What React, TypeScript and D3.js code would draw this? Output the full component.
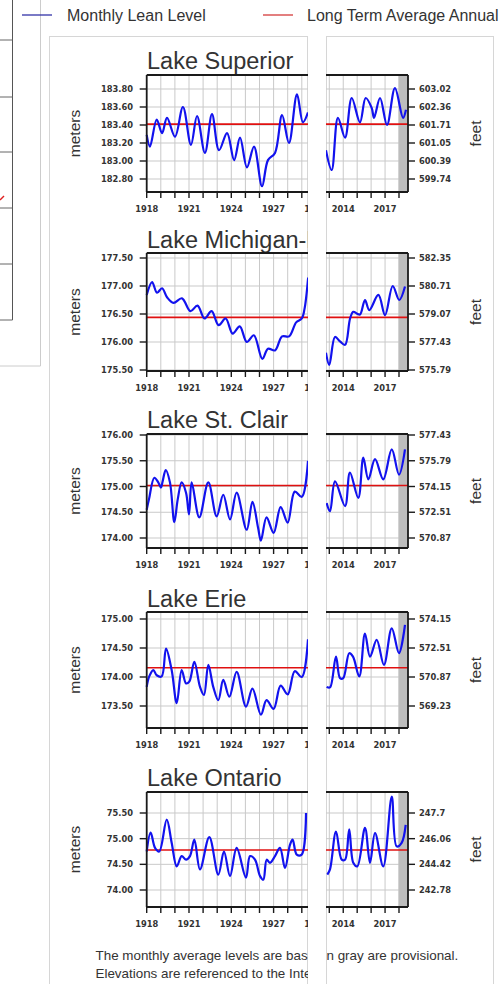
import React, { useEffect } from 'react';
import * as d3 from 'd3';

type Pt = [number, number];

// [decimal year, meters]
const superiorEarly: Pt[] = [
  [1918.0, 183.29], [1918.23, 183.16], [1918.71, 183.46], [1919.09, 183.31], [1919.44, 183.48],
  [1920.01, 183.27], [1920.57, 183.6], [1921.14, 183.18], [1921.57, 183.5], [1922.13, 183.09],
  [1922.63, 183.52], [1923.13, 183.12], [1923.7, 183.31], [1924.2, 183.01], [1924.62, 183.26],
  [1925.11, 182.93], [1925.61, 183.16], [1926.18, 182.72], [1926.6, 183.01], [1927.1, 183.09],
  [1927.6, 183.51], [1928.09, 183.2], [1928.66, 183.74], [1929.08, 183.43], [1929.44, 183.54],
];
const superiorRecent: Pt[] = [
  [2012.76, 183.12], [2013.17, 182.9], [2013.62, 183.48], [2014.13, 183.26], [2014.61, 183.7],
  [2015.2, 183.43], [2015.61, 183.7], [2016.04, 183.59], [2016.21, 183.48], [2016.64, 183.7],
  [2017.14, 183.4], [2017.71, 183.81], [2018.29, 183.48], [2018.5, 183.57],
];
const michiganEarly: Pt[] = [
  [1918.0, 176.84], [1918.38, 177.07], [1918.73, 176.88], [1919.09, 176.96], [1919.44, 176.8],
  [1919.9, 176.7], [1920.5, 176.78], [1921.1, 176.55], [1921.6, 176.65], [1922.1, 176.42],
  [1922.6, 176.55], [1923.1, 176.3], [1923.6, 176.42], [1924.1, 176.15], [1924.6, 176.28],
  [1925.1, 176.0], [1925.6, 176.12], [1926.2, 175.7], [1926.6, 175.88], [1927.1, 175.85],
  [1927.6, 176.1], [1928.1, 176.1], [1928.6, 176.35], [1929.0, 176.42], [1929.2, 176.6],
  [1929.45, 177.15],
];
const michiganRecent: Pt[] = [
  [2012.76, 175.81], [2013.0, 175.59], [2013.41, 176.09], [2013.77, 176.01], [2014.13, 175.95],
  [2014.49, 176.42], [2014.72, 176.54], [2014.97, 176.51], [2015.2, 176.49], [2015.56, 176.75],
  [2015.87, 176.57], [2016.52, 176.84], [2017.0, 176.48], [2017.55, 177.0], [2018.02, 176.75],
  [2018.43, 176.99],
];
const stClairEarly: Pt[] = [
  [1918.0, 174.55], [1918.16, 174.75], [1918.54, 175.17], [1918.82, 175.08], [1919.01, 174.98],
  [1919.13, 175.1], [1919.35, 175.32], [1919.65, 175.08], [1919.96, 174.31], [1920.2, 174.75],
  [1920.48, 175.08], [1920.79, 174.88], [1921.0, 174.46], [1921.19, 175.08], [1921.73, 174.4],
  [1922.37, 175.08], [1922.96, 174.42], [1923.43, 174.84], [1923.91, 174.36], [1924.38, 174.88],
  [1925.09, 174.16], [1925.5, 174.7], [1925.9, 174.2], [1926.1, 173.95], [1926.5, 174.4],
  [1927.0, 174.1], [1927.5, 174.6], [1928.0, 174.3], [1928.5, 174.9], [1929.0, 174.8],
  [1929.44, 175.5],
];
const stClairRecent: Pt[] = [
  [2012.81, 174.68], [2013.05, 174.52], [2013.41, 175.1], [2014.13, 174.62], [2014.48, 175.27],
  [2015.08, 174.78], [2015.44, 175.56], [2015.8, 175.14], [2016.28, 175.53], [2016.87, 175.14],
  [2017.48, 175.72], [2018.0, 175.23], [2018.43, 175.72],
];
const erieEarly: Pt[] = [
  [1918.0, 173.83], [1918.18, 174.01], [1918.47, 174.12], [1918.71, 174.03], [1919.06, 174.01],
  [1919.37, 174.49], [1919.77, 174.12], [1920.13, 173.55], [1920.48, 174.12], [1920.79, 173.89],
  [1921.02, 173.92], [1921.38, 174.26], [1921.78, 173.83], [1922.06, 173.69], [1922.37, 174.21],
  [1922.72, 173.83], [1923.08, 173.6], [1923.43, 173.95], [1923.86, 173.66], [1924.38, 174.09],
  [1925.04, 173.49], [1925.5, 173.8], [1926.1, 173.35], [1926.5, 173.6], [1927.0, 173.45],
  [1927.5, 173.85], [1928.0, 173.7], [1928.5, 174.1], [1929.0, 174.0], [1929.44, 174.65],
];
const erieRecent: Pt[] = [
  [2012.81, 173.83], [2013.05, 173.82], [2013.48, 174.35], [2013.77, 173.98], [2014.0, 173.98],
  [2014.43, 174.41], [2014.7, 174.35], [2015.15, 174.01], [2015.56, 174.75], [2015.92, 174.35],
  [2016.4, 174.64], [2016.92, 174.21], [2017.48, 174.84], [2018.0, 174.41], [2018.43, 174.9],
];
const ontarioEarly: Pt[] = [
  [1918.0, 74.75], [1918.28, 75.12], [1918.59, 74.82], [1918.89, 74.75], [1919.42, 75.37],
  [1919.77, 74.92], [1920.13, 74.46], [1920.48, 74.66], [1920.79, 74.59], [1921.07, 74.66],
  [1921.38, 74.98], [1921.78, 74.4], [1922.44, 75.03], [1923.08, 74.3], [1923.48, 74.75],
  [1923.91, 74.27], [1924.38, 74.82], [1925.04, 74.24], [1925.33, 74.66], [1925.68, 74.59],
  [1926.04, 74.27], [1926.27, 74.2], [1926.51, 74.59], [1926.74, 74.53], [1927.1, 74.66],
  [1927.45, 74.82], [1927.81, 74.43], [1928.16, 74.88], [1928.35, 74.98], [1928.64, 74.69],
  [1928.99, 74.69], [1929.3, 75.5],
];
const ontarioRecent: Pt[] = [
  [2012.86, 74.3], [2013.05, 74.4], [2013.48, 75.14], [2013.89, 74.59], [2014.13, 74.59],
  [2014.43, 75.18], [2014.72, 74.53], [2015.01, 74.46], [2015.56, 75.21], [2015.92, 74.53],
  [2016.28, 75.11], [2016.87, 74.46], [2017.48, 75.82], [2017.83, 74.85], [2018.19, 74.92],
  [2018.48, 75.27],
];

const lakeTitles = ['Lake Superior', 'Lake Michigan-Huron', 'Lake St. Clair', 'Lake Erie', 'Lake Ontario'];

const superiorMeters = [183.8, 183.6, 183.4, 183.2, 183.0, 182.8];
const superiorFeet = ['603.02', '602.36', '601.71', '601.05', '600.39', '599.74'];
const michiganMeters = [177.5, 177.0, 176.5, 176.0, 175.5];
const michiganFeet = ['582.35', '580.71', '579.07', '577.43', '575.79'];
const stClairMeters = [176.0, 175.5, 175.0, 174.5, 174.0];
const stClairFeet = ['577.43', '575.79', '574.15', '572.51', '570.87'];
const erieMeters = [175.0, 174.5, 174.0, 173.5];
const erieFeet = ['574.15', '572.51', '570.87', '569.23'];
const ontarioMeters = [75.5, 75.0, 74.5, 74.0];
const ontarioFeet = ['247.7', '246.06', '244.42', '242.78'];

const longTermAverage = [183.41, 176.44, 175.02, 174.16, 74.78];

const earlyTickYears = [1918, 1919, 1920, 1921, 1922, 1923, 1924, 1925, 1926, 1927, 1928, 1929, 1930];
const earlyLabelYears = [1918, 1921, 1924, 1927, 1930];
const recentTickYears = [2013, 2014, 2015, 2016, 2017, 2018];
const recentLabelYears = [2014, 2017];
const provisionalFrom = 2017.97;

const footerLeft = ['The monthly average levels are bas', 'Elevations are referenced to the Inte'];
const footerRight = 'n gray are provisional.';

const earlySeries = [superiorEarly, michiganEarly, stClairEarly, erieEarly, ontarioEarly];
const recentSeries = [superiorRecent, michiganRecent, stClairRecent, erieRecent, ontarioRecent];
const meterTicks = [superiorMeters, michiganMeters, stClairMeters, erieMeters, ontarioMeters];
const feetTicks = [superiorFeet, michiganFeet, stClairFeet, erieFeet, ontarioFeet];

// pixel layout of each lake block
const layout = [
  { titleY: 69, top: 75, bottom: 192, firstY: 89, lastY: 179 },
  { titleY: 248, top: 253, bottom: 371, firstY: 258, lastY: 370 },
  { titleY: 428, top: 434, bottom: 548, firstY: 435, lastY: 538 },
  { titleY: 607, top: 612, bottom: 728, firstY: 619, lastY: 706 },
  { titleY: 786, top: 792, bottom: 907, firstY: 813, lastY: 890 },
];

const W = 499;
const H = 984;
const LEFT_PANEL = { x: 49, w: 259 };
const RIGHT_PANEL = { x: 326, w: 168 };
const PLOT_L = 146.7;
const PLOT_R = 408;

const xEarly = d3.scaleLinear().domain([1918, 1930]).range([PLOT_L, 315.9]);
const xRecent = d3.scaleLinear().domain([2013, 2018]).range([329.3, 399]);

const tickFont = { fontFamily: '"DejaVu Sans", sans-serif', fontWeight: 'bold' as const, fontSize: 8.3, fill: '#333' };
const arial = '"Liberation Sans", Arial, sans-serif';
const BLUE = '#1212ee';
const RED = '#e01010';
const GRID = '#c9c9c9';
const AXIS = '#1a1a1a';

function Lake({ i }: { i: number }) {
  const L = layout[i];
  const ticks = meterTicks[i];
  const y = d3.scaleLinear()
    .domain([ticks[0], ticks[ticks.length - 1]])
    .range([L.firstY, L.lastY]);
  const mid = (L.top + L.bottom) / 2;

  const lineEarly = d3.line<Pt>().x(d => xEarly(d[0])).y(d => y(d[1])).curve(d3.curveCatmullRom.alpha(0.5));
  const lineRecent = d3.line<Pt>().x(d => xRecent(d[0])).y(d => y(d[1])).curve(d3.curveCatmullRom.alpha(0.5));

  return (
    <g>
      <g clipPath="url(#clipLeft)">
        <text x={147} y={L.titleY} fontFamily={arial} fontSize={23.5} fill="#333">{lakeTitles[i]}</text>
        <text transform={`translate(80,${mid}) rotate(-90)`} textAnchor="middle"
          fontFamily={arial} fontSize={15.5} fill="#333">meters</text>
        {earlyTickYears.map(t => (
          <line key={'gv' + t} x1={xEarly(t)} x2={xEarly(t)} y1={L.top} y2={L.bottom} stroke={GRID} strokeWidth={1} />
        ))}
        {ticks.map(t => (
          <line key={'gh' + t} x1={PLOT_L} x2={320} y1={y(t)} y2={y(t)} stroke={GRID} strokeWidth={1} />
        ))}
        <line x1={PLOT_L} x2={320} y1={y(longTermAverage[i])} y2={y(longTermAverage[i])} stroke={RED} strokeWidth={1.6} />
        <path d={lineEarly(earlySeries[i]) || ''} fill="none" stroke={BLUE} strokeWidth={2.2} strokeLinejoin="round" />
        <line x1={PLOT_L} x2={320} y1={L.top} y2={L.top} stroke={AXIS} strokeWidth={1.8} />
        <line x1={PLOT_L} x2={320} y1={L.bottom} y2={L.bottom} stroke={AXIS} strokeWidth={1.8} />
        <line x1={PLOT_L} x2={PLOT_L} y1={L.top} y2={L.bottom} stroke={AXIS} strokeWidth={1.8} />
        {ticks.map(t => (
          <g key={'yt' + t}>
            <line x1={PLOT_L - 7} x2={PLOT_L} y1={y(t)} y2={y(t)} stroke={AXIS} strokeWidth={1.4} />
            <text x={133} y={y(t) + 3} textAnchor="end" {...tickFont}>{t.toFixed(2)}</text>
          </g>
        ))}
        {earlyTickYears.map(t => (
          <line key={'xt' + t} x1={xEarly(t)} x2={xEarly(t)} y1={L.bottom} y2={L.bottom + 6} stroke={AXIS} strokeWidth={1.4} />
        ))}
        {earlyLabelYears.map(t => (
          <text key={'xl' + t} x={xEarly(t)} y={L.bottom + 20} textAnchor="middle" {...tickFont}>{t}</text>
        ))}
      </g>
      <g clipPath="url(#clipRight)">
        {recentTickYears.map(t => (
          <line key={'gv' + t} x1={xRecent(t)} x2={xRecent(t)} y1={L.top} y2={L.bottom} stroke={GRID} strokeWidth={1} />
        ))}
        {ticks.map(t => (
          <line key={'gh' + t} x1={310} x2={PLOT_R} y1={y(t)} y2={y(t)} stroke={GRID} strokeWidth={1} />
        ))}
        <rect x={xRecent(provisionalFrom)} y={L.top} width={PLOT_R - xRecent(provisionalFrom)} height={L.bottom - L.top} fill="#bdbdbd" />
        <line x1={310} x2={PLOT_R} y1={y(longTermAverage[i])} y2={y(longTermAverage[i])} stroke={RED} strokeWidth={1.6} />
        <path d={lineRecent(recentSeries[i]) || ''} fill="none" stroke={BLUE} strokeWidth={2.2} strokeLinejoin="round" />
        <line x1={310} x2={PLOT_R} y1={L.top} y2={L.top} stroke={AXIS} strokeWidth={1.8} />
        <line x1={310} x2={PLOT_R} y1={L.bottom} y2={L.bottom} stroke={AXIS} strokeWidth={1.8} />
        <line x1={PLOT_R} x2={PLOT_R} y1={L.top} y2={L.bottom} stroke={AXIS} strokeWidth={1.8} />
        {ticks.map((t, k) => (
          <g key={'ft' + t}>
            <line x1={PLOT_R} x2={PLOT_R + 7} y1={y(t)} y2={y(t)} stroke={AXIS} strokeWidth={1.4} />
            <text x={419} y={y(t) + 3} {...tickFont}>{feetTicks[i][k]}</text>
          </g>
        ))}
        {recentTickYears.map(t => (
          <line key={'xt' + t} x1={xRecent(t)} x2={xRecent(t)} y1={L.bottom} y2={L.bottom + 6} stroke={AXIS} strokeWidth={1.4} />
        ))}
        {recentLabelYears.map(t => (
          <text key={'xl' + t} x={xRecent(t)} y={L.bottom + 20} textAnchor="middle" {...tickFont}>{t}</text>
        ))}
        <text transform={`translate(481,${mid}) rotate(-90)`} textAnchor="middle"
          fontFamily={arial} fontSize={15.5} fill="#333">feet</text>
      </g>
    </g>
  );
}

export default function App() {
  useEffect(() => {
    document.body.style.margin = '0';
    document.body.style.overflow = 'hidden';
  }, []);

  const rowLines = [40, 97, 152, 208, 264, 320];

  return (
    <svg width={W} height={H} viewBox={`0 0 ${W} ${H}`} style={{ display: 'block', background: '#fff' }}>
      <defs>
        <clipPath id="clipLeft"><rect x={LEFT_PANEL.x} y={0} width={LEFT_PANEL.w} height={H} /></clipPath>
        <clipPath id="clipRight"><rect x={RIGHT_PANEL.x} y={0} width={RIGHT_PANEL.w} height={H} /></clipPath>
      </defs>

      {/* page fragment on the far left */}
      <line x1={12.5} x2={12.5} y1={0} y2={320} stroke="#555" strokeWidth={1} />
      {rowLines.map(r => (
        <line key={r} x1={0} x2={12.5} y1={r} y2={r} stroke="#666" strokeWidth={1} />
      ))}
      <line x1={40.5} x2={40.5} y1={0} y2={366} stroke="#ccc" strokeWidth={1} />
      <line x1={0} x2={40.5} y1={366} y2={366} stroke="#ccc" strokeWidth={1} />
      <line x1={0} x2={4} y1={200} y2={196} stroke="#e02020" strokeWidth={1.5} />

      {/* legend */}
      <line x1={22} x2={52} y1={15} y2={15} stroke="#3232a8" strokeWidth={1.3} />
      <text x={67} y={20.5} fontFamily={arial} fontSize={16} fill="#333">Monthly Lean Level</text>
      <line x1={263} x2={293} y1={15} y2={15} stroke="#d43a3a" strokeWidth={1.3} />
      <text x={307} y={20.5} fontFamily={arial} fontSize={16} fill="#333">Long Term Average Annual</text>

      {/* panels */}
      <rect x={LEFT_PANEL.x + 0.5} y={36.5} width={LEFT_PANEL.w - 1} height={H} fill="#fff" stroke="#d6d6d6" />
      <rect x={RIGHT_PANEL.x + 0.5} y={36.5} width={RIGHT_PANEL.w - 1} height={H} fill="#fff" stroke="#d6d6d6" />

      {lakeTitles.map((_, i) => <Lake key={i} i={i} />)}

      <g clipPath="url(#clipLeft)" fontFamily={arial} fontSize={13.4} fill="#333">
        <text x={95.5} y={960}>{footerLeft[0]}</text>
        <text x={95.5} y={978}>{footerLeft[1]}</text>
      </g>
      <g clipPath="url(#clipRight)" fontFamily={arial} fontSize={13.4} fill="#333">
        <text x={326.5} y={960}>{footerRight}</text>
      </g>
    </svg>
  );
}
